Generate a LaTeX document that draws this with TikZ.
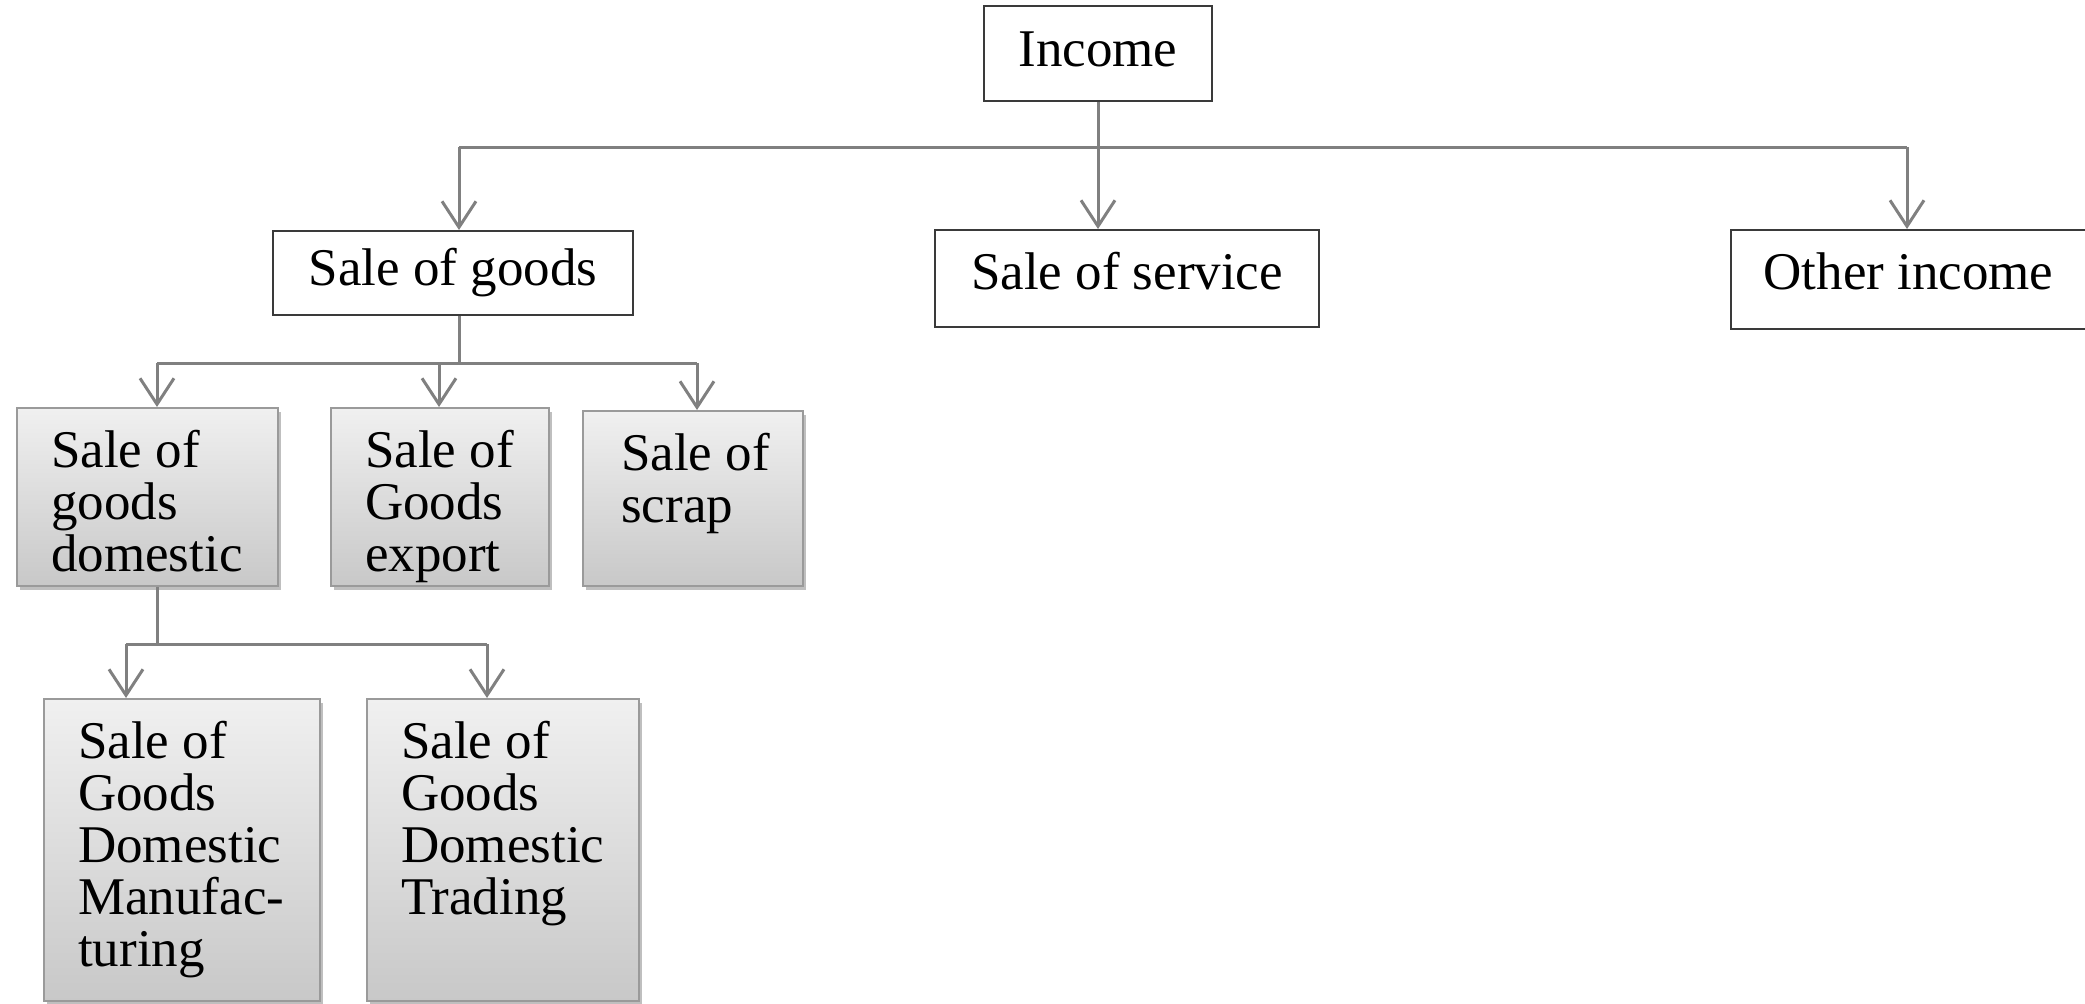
\documentclass[tikz,border=0pt]{standalone}
\usepackage{fontspec}
\setmainfont{Liberation Serif}
\usetikzlibrary{arrows.meta,shadows}
\definecolor{conn}{HTML}{808080}
\definecolor{boxline}{HTML}{3A3A3A}
\definecolor{shline}{HTML}{9A9A9A}
\definecolor{shtop}{HTML}{F0F0F0}
\definecolor{shbot}{HTML}{C8C8C8}
\newcommand\boxtxt[3]{\parbox[c][#2][t]{#1}{\raggedright\leftskip=17pt\vspace*{11pt}#3}}
\begin{document}
\begin{tikzpicture}[x=0.5pt,y=-0.5pt,
  topbox/.style={draw=boxline, line width=1pt, fill=white, inner sep=0pt,
    font=\fontsize{26.5}{28}\selectfont},
  lift/.style={text depth=#1},
  shadebox/.style={draw=shline, line width=1.2pt, top color=shtop, bottom color=shbot,
    inner sep=0pt, anchor=north west, font=\fontsize{26.5}{26}\selectfont,
    drop shadow={shadow xshift=1.5pt, shadow yshift=-2pt, opacity=0.25, fill=black}},
  link/.style={draw=conn, line width=1.5pt},
  arr/.style={link, -{Straight Barb[length=13pt,width=17pt]}}]
\useasboundingbox (0,0) rectangle (2085,1003);

% top levels
\node[topbox, lift=4pt, minimum width=114pt, minimum height=47.5pt] (inc) at (1098,53.5) {Income};
\node[topbox, minimum width=180pt, minimum height=42pt] (sog) at (453,273) {Sale of goods};
\node[topbox, lift=8pt, minimum width=192pt, minimum height=48.5pt] (svc) at (1127,278.5) {Sale of service};
\node[topbox, lift=8pt, minimum width=177.5pt, minimum height=49.5pt] (oth) at (1908.5,279.5) {Other income};

% level 3
\node[shadebox] (sA) at (16,407) {\boxtxt{130.5pt}{89pt}{Sale of\\goods\\domestic}};
\node[shadebox] (sB) at (330,407) {\boxtxt{109pt}{89pt}{Sale of\\Goods\\export}};
\node[shadebox] (sC) at (582,410) {\boxtxt{110pt}{87.5pt}{\leftskip=19pt Sale of\\scrap}};

% level 4
\node[shadebox] (sD) at (43,698) {\boxtxt{138pt}{151pt}{Sale of\\Goods\\Domestic\\Manufac-\\turing}};
\node[shadebox] (sE) at (366,698) {\boxtxt{136pt}{151pt}{Sale of\\Goods\\Domestic\\Trading}};

% connectors level 1
\coordinate (busL) at (459,147);
\coordinate (busR) at (1907,147);
\draw[link] (busL) -- (busR);
\draw[arr] (inc.south) -- (inc.south |- svc.north);
\draw[arr] (busL) -- (busL |- sog.north);
\draw[arr] (busR) -- (busR |- oth.north);

% connectors level 2
\coordinate (b2) at (459,363);
\coordinate (b2L) at (157,363);
\coordinate (b2M) at (439,363);
\coordinate (b2R) at (697,363);
\draw[link] (b2 |- sog.south) -- (b2);
\draw[link] (b2L) -- (b2R);
\draw[arr] (b2L) -- (b2L |- sA.north);
\draw[arr] (b2M) -- (b2M |- sB.north);
\draw[arr] (b2R) -- (b2R |- sC.north);

% connectors level 3
\coordinate (b3) at (157,644);
\coordinate (b3L) at (126,644);
\coordinate (b3R) at (487,644);
\draw[link] (b3 |- sA.south) -- (b3);
\draw[link] (b3L) -- (b3R);
\draw[arr] (b3L) -- (b3L |- sD.north);
\draw[arr] (b3R) -- (b3R |- sE.north);
\end{tikzpicture}
\end{document}
